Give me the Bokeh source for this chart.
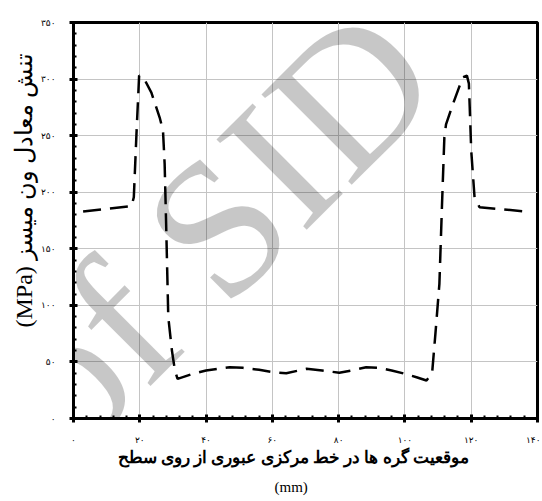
import math
from bokeh.plotting import figure
from bokeh.models import Range1d, SingleIntervalTicker, Label, Title
from bokeh.embed import file_html
from bokeh.resources import INLINE

# ---- data ----
x_mm = [2.9, 17.5, 18.2, 19.0, 19.8, 21.0, 23.5, 26.0, 27.0, 27.5, 27.9, 28.6, 29.7, 30.6, 31.4,
        35.5, 40.0, 47.1, 51.1, 56.0, 60.2, 64.2, 70.3, 75.0, 80.2, 84.0, 88.3, 92.3, 96.0, 100.0,
        103.5, 106.5, 108.2, 109.2, 110.4, 111.2, 111.9, 112.4, 114.5, 116.5, 117.5, 118.7, 119.3,
        120.0, 121.0, 122.5, 129.0, 136.1]
stress = [183.0, 187.7, 195.6, 251.6, 303.0, 302.0, 288.0, 266.0, 254.5, 225.0, 178.0, 89.5, 60.0, 42.4, 35.0,
          39.0, 42.4, 45.3, 44.8, 43.0, 41.0, 40.0, 43.9, 42.5, 40.4, 42.5, 45.3, 44.8, 42.5, 39.5,
          36.5, 33.6, 40.0, 75.0, 119.0, 190.0, 248.6, 260.0, 278.0, 294.0, 301.6, 303.0, 296.0,
          237.0, 195.6, 186.8, 185.0, 183.0]

x_ticks = [0, 20, 40, 60, 80, 100, 120, 140]
x_tick_labels = ["۰", "۲۰", "۴۰", "۶۰", "۸۰", "۱۰۰", "۱۲۰", "۱۴۰"]
y_ticks = [0, 50, 100, 150, 200, 250, 300, 350]
y_tick_labels = ["۰", "۵۰", "۱۰۰", "۱۵۰", "۲۰۰", "۲۵۰", "۳۰۰", "۳۵۰"]

x_title = "موقعیت گره ها در خط مرکزی عبوری از روی سطح"
x_unit = "(mm)"
y_title = "(MPa) تنش معادل ون میسز"
watermark = "of SID"

p = figure(frame_width=464, frame_height=396, output_backend="svg", toolbar_location=None,
           x_range=Range1d(0, 140), y_range=Range1d(0, 350),
           min_border_left=73, min_border_right=3, min_border_top=22, min_border_bottom=76)

p.xaxis.ticker = SingleIntervalTicker(interval=20, num_minor_ticks=5)
p.yaxis.ticker = SingleIntervalTicker(interval=50, num_minor_ticks=5)
p.xaxis.major_label_overrides = {t: l for t, l in zip(x_ticks, x_tick_labels)}
p.yaxis.major_label_overrides = {t: l for t, l in zip(y_ticks, y_tick_labels)}

for ax in (p.xaxis, p.yaxis):
    ax.axis_line_width = 3
    ax.axis_line_color = "black"
    ax.major_tick_line_width = 3
    ax.major_tick_in = 4
    ax.major_tick_out = 4
    ax.minor_tick_line_width = 2
    ax.minor_tick_in = 3
    ax.minor_tick_out = 0
    ax.major_label_text_font = "DejaVu Sans"
    ax.major_label_text_font_size = "9px"
    ax.major_label_text_color = "black"
p.xaxis.major_label_standoff = 12
p.yaxis.major_label_standoff = 14

p.grid.grid_line_color = "#c4c4c4"
p.grid.grid_line_width = 1
p.outline_line_color = "black"
p.outline_line_width = 3
p.outline_line_alpha = 1

p.line(x_mm, stress, line_color="black", line_width=2.5, line_dash="18 9")

p.add_layout(Title(text=y_title, align="left", offset=91, standoff=2,
                   text_font="Liberation Serif", text_font_size="24px",
                   text_font_style="normal", text_color="black"), "left")
p.add_layout(Title(text=x_title, align="left", offset=44, standoff=0, vertical_align="top",
                   text_font="Liberation Serif", text_font_size="17px",
                   text_font_style="bold", text_color="black"), "below")
p.add_layout(Title(text="\n" + x_unit, align="left", offset=201, standoff=4, vertical_align="top",
                   text_font="Liberation Serif", text_font_size="15px", text_line_height=0.5,
                   text_font_style="normal", text_color="black"), "below")

p.add_layout(Label(x=98.7, y=332.3, text=watermark, angle=math.pi / 4, level="overlay",
                   text_align="right", text_baseline="middle",
                   text_font="Liberation Serif", text_font_size="195px",
                   text_color="black", text_alpha=0.22))

open("out.html", "w").write(file_html(p, INLINE))
